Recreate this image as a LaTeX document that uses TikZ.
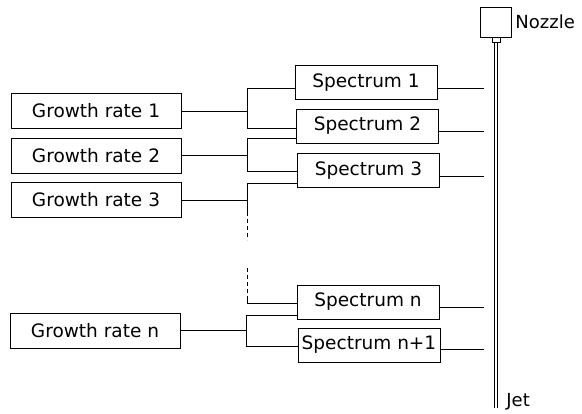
\documentclass[tikz,border=0pt]{standalone}
\usepackage{fontspec}
\setmainfont{DejaVu Sans}
\begin{document}
\begin{tikzpicture}[x=1pt,y=-1pt,
  every path/.style={line width=0.8pt},
  grbox/.style={draw,line width=0.8pt,minimum width=170pt,minimum height=35pt,inner sep=0pt,font=\fontsize{18.5}{20}\selectfont},
  spbox/.style={draw,line width=0.8pt,minimum width=142pt,minimum height=34pt,inner sep=0pt,font=\fontsize{18.5}{20}\selectfont},
  lbl/.style={inner sep=0pt,font=\fontsize{18}{20}\selectfont},
  dsh/.style={dash pattern=on 4pt off 3pt}]
\useasboundingbox (0,0) rectangle (582,414);
% growth rate boxes
\node[grbox] (g1) at (96,111) {Growth rate 1};
\node[grbox] (g2) at (96,155.5) {Growth rate 2};
\node[grbox] (g3) at (96,200) {Growth rate 3};
\node[grbox] (gn) at (95,330.5) {Growth rate n};
% spectrum boxes
\node[spbox] (s1) at (366,82.5) {Spectrum 1};
\node[spbox] (s2) at (367.5,126) {Spectrum 2};
\node[spbox] (s3) at (368.5,170.5) {Spectrum 3};
\node[spbox] (sn) at (368,302) {Spectrum n};
\node[spbox] (sn1) at (369,345) {Spectrum n+1};
% nozzle and jet
\node[draw,line width=0.8pt,minimum width=31pt,minimum height=30pt,inner sep=0pt] (nz) at (496,22) {};
\node[draw,line width=0.8pt,minimum width=8pt,minimum height=5pt,inner sep=0pt,anchor=north] (tab) at (nz.south) {};
\node[lbl,anchor=west] (nzl) at (515,22) {Nozzle};
\coordinate (jtop) at (495.2,42);
\coordinate (jbot) at (495.2,408);
\draw ([xshift=-1.8pt]tab.south |- jtop) -- ([xshift=-1.8pt]tab.south |- jbot);
\draw ([xshift=1.8pt]tab.south |- jtop) -- ([xshift=1.8pt]tab.south |- jbot);
\node[lbl,anchor=west] (jet) at (506,402) {Jet};
% branch coordinates
\coordinate (b1t) at (247,88);
\coordinate (b1b) at (247,128);
\coordinate (b2t) at (247,138);
\coordinate (b2b) at (247,171.5);
\coordinate (b3t) at (247,183.5);
\coordinate (d1) at (247,212);
\coordinate (d2) at (247,240);
\coordinate (d3) at (247,268);
\coordinate (d4) at (247,299);
\coordinate (bnd) at (247,303);
\coordinate (bnt) at (246,315);
\coordinate (bnb) at (246,346.5);
% growth to branch
\draw (g1.east) -- (g1.east -| b1t);
\draw (g2.east) -- (g2.east -| b2t);
\draw (g3.east) -- (g3.east -| b3t);
\draw (gn.east) -- (gn.east -| bnt);
% branches
\draw (s1.west |- b1t) -- (b1t) -- (b1b) -- (s2.west |- b1b);
\draw (s2.west |- b2t) -- (b2t) -- (b2b) -- (s3.west |- b2b);
\draw (s3.west |- b3t) -- (b3t) -- (d1);
\draw[dsh] (d1) -- (d2);
\draw[dsh] (d3) -- (d4);
\draw (d4) -- (bnd) -- (sn.west |- bnd);
\draw (sn.west |- bnt) -- (bnt) -- (bnb) -- (sn1.west |- bnb);
% outputs to jet
\coordinate (o1) at (484,88);
\coordinate (o2) at (484,131);
\coordinate (o3) at (484,176);
\coordinate (on) at (484,307);
\coordinate (on1) at (484,349);
\draw (s1.east |- o1) -- (o1);
\draw (s2.east |- o2) -- (o2);
\draw (s3.east |- o3) -- (o3);
\draw (sn.east |- on) -- (on);
\draw (sn1.east |- on1) -- (on1);
\end{tikzpicture}
\end{document}
